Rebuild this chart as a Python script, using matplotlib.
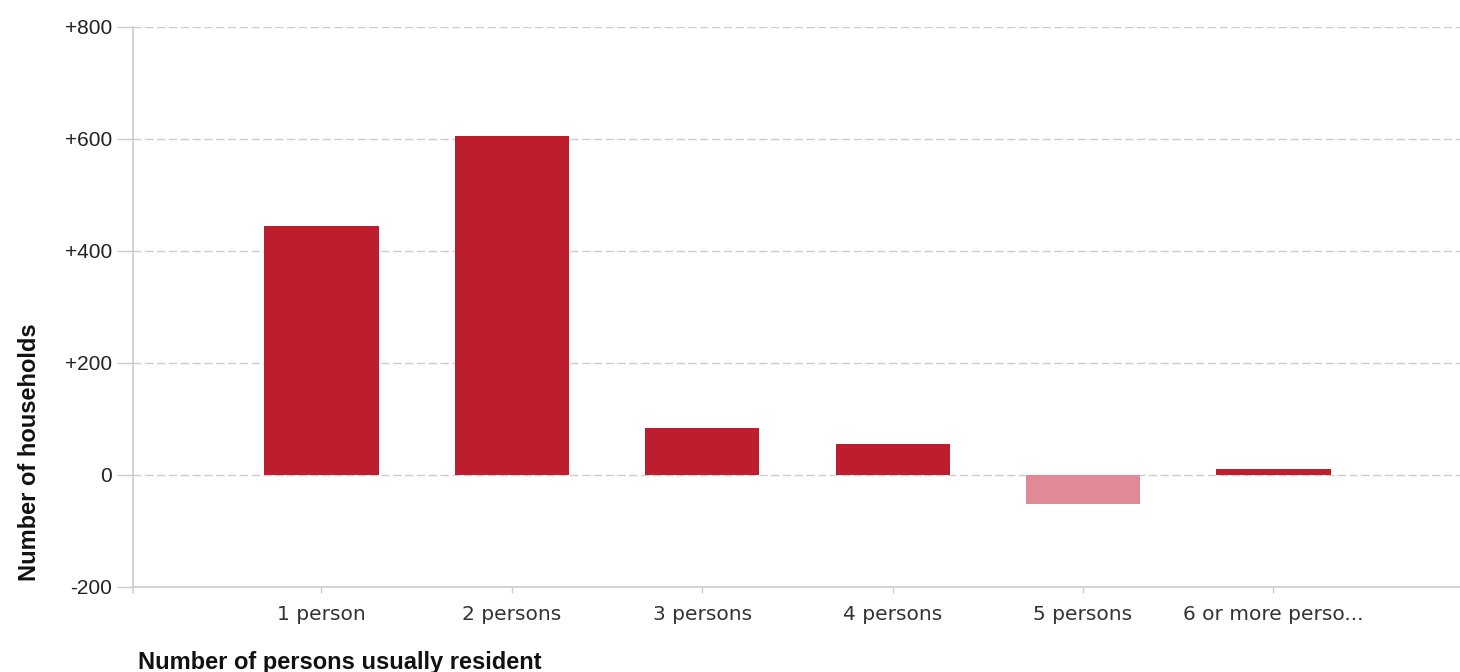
import matplotlib
matplotlib.use("Agg")
import matplotlib.pyplot as plt
from matplotlib.ticker import FixedLocator

categories = ["1 person", "2 persons", "3 persons", "4 persons", "5 persons", "6 or more perso..."]
values = [445, 605, 84, 55, -52, 11]
y_ticks = [-200, 0, 200, 400, 600, 800]
y_tick_labels = ["-200", "0", "+200", "+400", "+600", "+800"]

pos_color = "#BD1E2E"
neg_color = "#E08A98"

fig = plt.figure(figsize=(14.6, 6.72), dpi=100)
ax = fig.add_axes([133/1460, 1 - 587/672, 1 - 133/1460, (587 - 27)/672])

x = list(range(len(categories)))
colors = [pos_color if v >= 0 else neg_color for v in values]
ax.bar(x, values, width=0.6, color=colors, zorder=3)

ax.set_xlim(-0.99, 5.98)
ax.set_ylim(-200, 800)
ax.set_yticks(y_ticks)
ax.set_yticklabels(y_tick_labels, fontfamily="Liberation Sans", fontsize=15, color="#222222")
ax.set_xticks(x)
ax.set_xticklabels(categories, fontfamily="DejaVu Sans", fontsize=14.5, color="#333333")
ax.xaxis.set_minor_locator(FixedLocator([-0.99]))

for y in y_ticks[1:]:
    ax.axhline(y, color="#cccccc", lw=1, ls=(0, (6, 2.5)), zorder=1)

for s in ["top", "right"]:
    ax.spines[s].set_visible(False)
for s in ["left", "bottom"]:
    ax.spines[s].set_color("#cccccc")
    ax.spines[s].set_linewidth(1.2)

ax.tick_params(axis="y", length=11.5, width=1, color="#cccccc", pad=3.6)
ax.tick_params(axis="x", which="major", length=4.3, width=1, color="#cccccc", pad=9)
ax.tick_params(axis="x", which="minor", length=4.3, width=1.2, color="#cccccc")

fig.text(138/1460, 1 - 662/672, "Number of persons usually resident",
         fontfamily="Liberation Sans", fontweight="bold", fontsize=17,
         ha="left", va="center", color="#111111")
fig.text(30/1460, 1 - 452/672, "Number of households",
         fontfamily="Liberation Sans", fontweight="bold", fontsize=17,
         ha="center", va="center", rotation=90, color="#111111")

fig.savefig("out.png", dpi=100)
